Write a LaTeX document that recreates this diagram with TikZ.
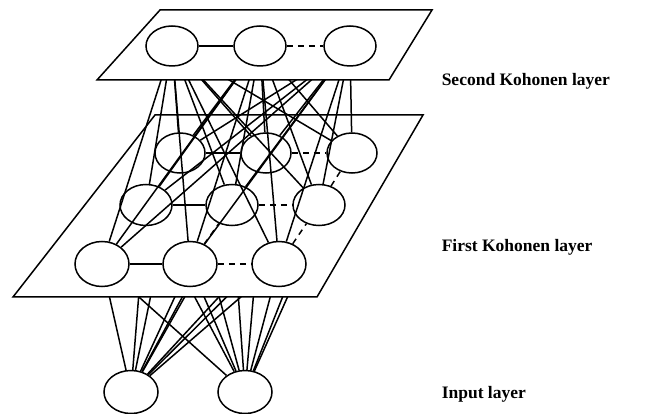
\documentclass[tikz,border=0pt]{standalone}
\usepackage{fontspec}
\setmainfont{Liberation Serif}
\usetikzlibrary{shapes.geometric}
\pgfdeclarelayer{inlines}
\pgfdeclarelayer{lowplane}
\pgfdeclarelayer{lownodes}
\pgfdeclarelayer{topplane}
\pgfsetlayers{inlines,lowplane,lownodes,topplane,main}
\begin{document}
\begin{tikzpicture}[x=1pt,y=-1pt,line width=1.5pt,
  every path/.style={line width=1.5pt},
  neuron/.style={ellipse,draw,inner sep=0pt},
  plane/.style={draw,fill=white,line join=miter},
  dsh/.style={dash pattern=on 6pt off 5pt},
  lbl/.style={anchor=west,inner sep=0pt,font=\bfseries\fontsize{17.5}{20}\selectfont}]
\useasboundingbox (0,0) rectangle (646,414);
% first Kohonen layer nodes
\begin{pgfonlayer}{lownodes}
\node[neuron,minimum width=50pt,minimum height=40pt] (a1) at (180,153) {};
\node[neuron,minimum width=50pt,minimum height=40pt] (a2) at (266,153) {};
\node[neuron,minimum width=50pt,minimum height=40pt] (a3) at (352,153) {};
\node[neuron,minimum width=52pt,minimum height=41pt] (b1) at (146,205) {};
\node[neuron,minimum width=52pt,minimum height=41pt] (b2) at (232,205) {};
\node[neuron,minimum width=52pt,minimum height=41pt] (b3) at (319,205) {};
\node[neuron,minimum width=54pt,minimum height=45pt] (c1) at (102,264) {};
\node[neuron,minimum width=54pt,minimum height=45pt] (c2) at (190,264) {};
\node[neuron,minimum width=54pt,minimum height=45pt] (c3) at (279,264) {};
\draw (a1) -- (a2); \draw[dsh] (a2) -- (a3);
\draw (b1) -- (b2); \draw[dsh] (b2) -- (b3);
\draw (c1) -- (c2); \draw[dsh] (c2) -- (c3);
\draw[dsh] (c2) -- (b2);
\draw[dsh] (c3) -- (b3);
\draw[dsh] (b3) -- (a3);
\end{pgfonlayer}
% second Kohonen layer nodes
\node[neuron,minimum width=52pt,minimum height=40pt] (t1) at (172,46) {};
\node[neuron,minimum width=52pt,minimum height=40pt] (t2) at (260,46) {};
\node[neuron,minimum width=52pt,minimum height=40pt] (t3) at (350,46) {};
\draw (t1) -- (t2); \draw[dsh] (t2) -- (t3);
% input nodes
\node[neuron,minimum width=54pt,minimum height=43pt] (i1) at (131,392) {};
\node[neuron,minimum width=54pt,minimum height=43pt] (i2) at (245,392) {};
% connections second -> first
\begin{pgfonlayer}{lownodes}
\foreach \t in {t1,t2,t3}
  \foreach \f in {a1,a2,a3,b1,b2,b3,c1,c2,c3}
    \draw (\t) -- (\f);
\end{pgfonlayer}
% connections input -> first
\begin{pgfonlayer}{inlines}
\foreach \i in {i1,i2}
  \foreach \f in {a1,a2,a3,b1,b2,b3,c1,c2,c3}
    \draw (\i) -- (\f);
\end{pgfonlayer}
% planes
\begin{pgfonlayer}{lowplane}
\draw[plane] (155,115) -- (423,115) -- (317,297) -- (13,297) -- cycle;
\end{pgfonlayer}
\begin{pgfonlayer}{topplane}
\draw[plane] (160,10) -- (432,10) -- (389,80) -- (97,80) -- cycle;
\end{pgfonlayer}
% labels
\node[lbl] (l2) at (441,81) {Second Kohonen layer};
\node[lbl] (l1) at (441,247) {First Kohonen layer};
\node[lbl] (l0) at (441,394) {Input layer};
\end{tikzpicture}
\end{document}
